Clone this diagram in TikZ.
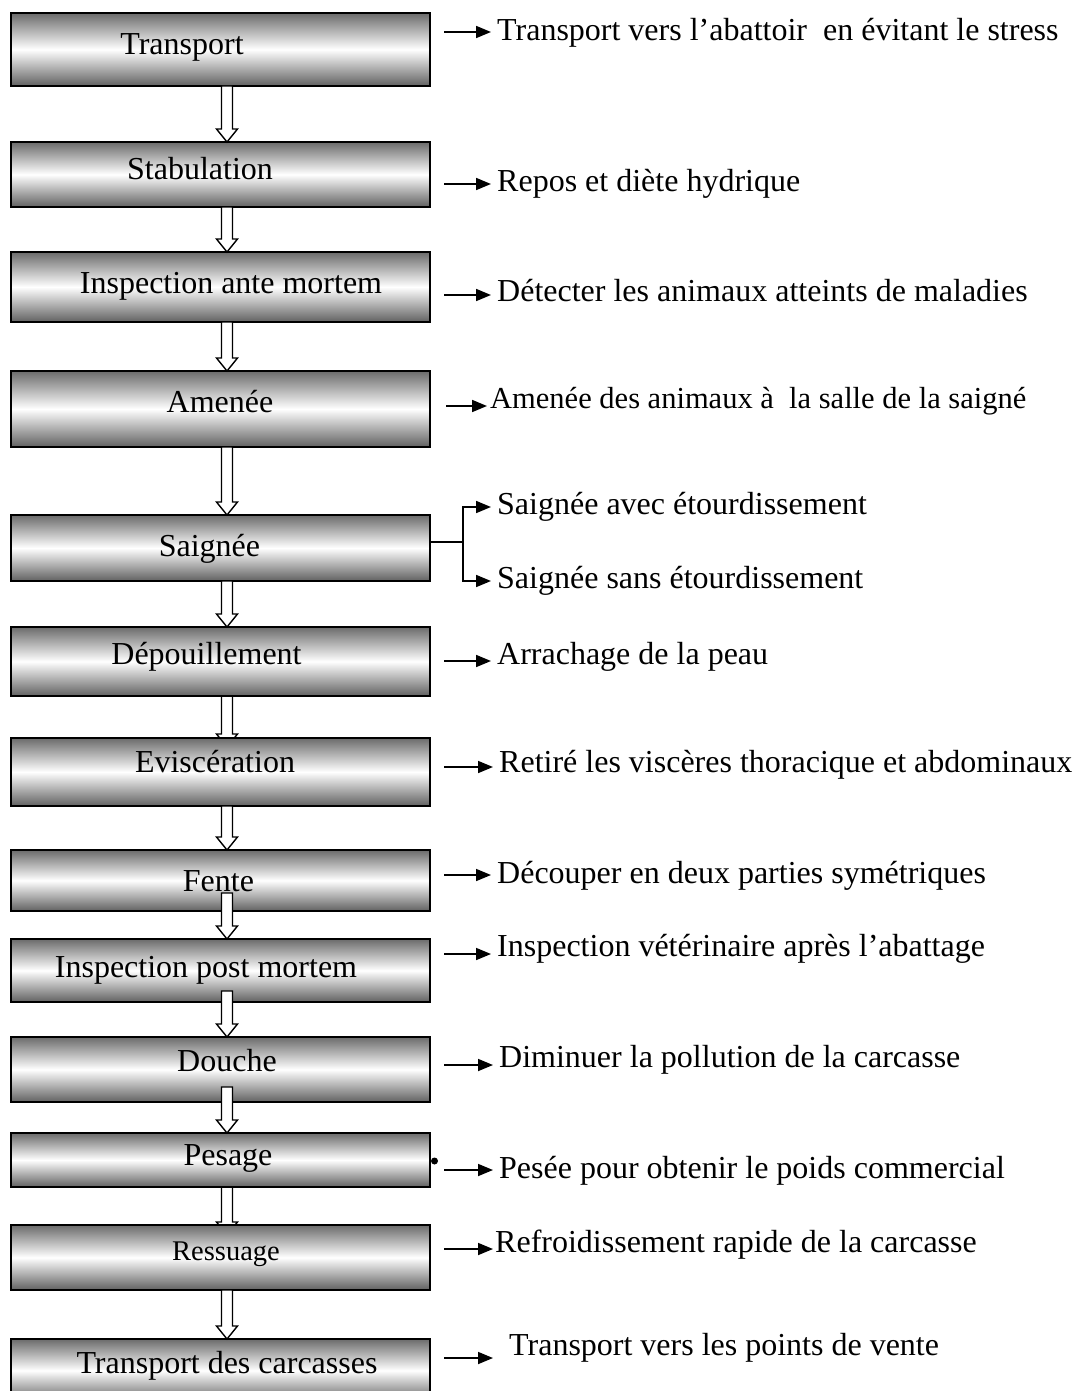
\documentclass[tikz,border=0pt]{standalone}
\usepackage{fontspec}
\setmainfont{Liberation Serif}
\usetikzlibrary{arrows.meta,calc}
\pgfdeclarelayer{bg}
\pgfdeclarelayer{paper}
\pgfsetlayers{paper,bg,main}
\tikzset{
  stepbox/.style={draw=black, line width=1.8pt, top color=black!58, bottom color=black!62, middle color=white, minimum width=419pt, inner sep=0pt, outer sep=0pt},
  boxtext/.style={font=\fontsize{32}{38}\selectfont, inner sep=0pt, text height=21pt, text depth=7pt},
  desc/.style={font=\fontsize{32}{38}\selectfont, anchor=west, inner sep=0pt, text height=21pt, text depth=7pt},
  thinarrow/.style={line width=1.7pt, -{Triangle[length=15pt,width=12pt]}, shorten >=6pt},
  blockarrow/.style={draw=black, line width=1.4pt, fill=white, line join=miter},
}
\newcommand{\blockarr}[4]{%
  \draw[blockarrow] let \p1=(#1.south -| ax), \p2=(#2.north -| ax) in
   (\x1-5.5pt,\y1+#3) -- (\x1-5.5pt,\y2-#4+13pt) -- (\x1-10.5pt,\y2-#4+13pt) -- (\x1,\y2-#4)
   -- (\x1+10.5pt,\y2-#4+13pt) -- (\x1+5.5pt,\y2-#4+13pt) -- (\x1+5.5pt,\y1+#3) -- cycle;}
\begin{document}
\begin{tikzpicture}[x=1pt,y=-1pt]
\begin{pgfonlayer}{paper}
\fill[white] (0,0) rectangle (1077,1391);
\end{pgfonlayer}
\useasboundingbox (0,0) rectangle (1077,1391);
\coordinate (ax) at (227,0);
% boxes
\node[stepbox, minimum height=73pt] (b1) at (220.5,49.5) {};
\node[stepbox, minimum height=65pt] (b2) at (220.5,174.5) {};
\node[stepbox, minimum height=70pt] (b3) at (220.5,287) {};
\node[stepbox, minimum height=76pt] (b4) at (220.5,409) {};
\node[stepbox, minimum height=66pt] (b5) at (220.5,548) {};
\node[stepbox, minimum height=69pt] (b6) at (220.5,661.5) {};
\node[stepbox, minimum height=68pt] (b7) at (220.5,772) {};
\node[stepbox, minimum height=61pt] (b8) at (220.5,880.5) {};
\node[stepbox, minimum height=63pt] (b9) at (220.5,970.5) {};
\node[stepbox, minimum height=65pt] (b10) at (220.5,1069.5) {};
\node[stepbox, minimum height=54pt] (b11) at (220.5,1160) {};
\node[stepbox, minimum height=65pt] (b12) at (220.5,1257.5) {};
\node[stepbox, minimum height=63pt] (b13) at (220.5,1370.5) {};
% box texts
\node[boxtext] (t1) at (182,48) {Transport};
\node[boxtext] (t2) at (200,172) {Stabulation};
\node[boxtext] (t3) at (231,286) {Inspection ante mortem};
\node[boxtext] (t4) at (220,405) {Amenée};
\node[boxtext] (t5) at (209.5,549) {Saignée};
\node[boxtext] (t6) at (206.5,657) {Dépouillement};
\node[boxtext] (t7) at (215,765) {Eviscération};
\node[boxtext] (t8) at (218.5,884) {Fente};
\node[boxtext] (t9) at (206,970) {Inspection post mortem};
\node[boxtext] (t10) at (227,1064) {Douche};
\node[boxtext] (t11) at (228,1158) {Pesage};
\node[boxtext, font=\fontsize{28.5}{34}\selectfont] (t12) at (226,1253) {Ressuage};
\node[boxtext] (t13) at (227,1366) {Transport des carcasses};
% hidden-head block arrows
\begin{pgfonlayer}{bg}
\blockarr{b6}{b7}{0pt}{9pt}
\blockarr{b11}{b12}{0pt}{10pt}
\end{pgfonlayer}
% block arrows
\blockarr{b1}{b2}{0pt}{0pt}
\blockarr{b2}{b3}{0pt}{0pt}
\blockarr{b3}{b4}{0pt}{0pt}
\blockarr{b4}{b5}{0pt}{0pt}
\blockarr{b5}{b6}{0pt}{0pt}
\blockarr{b7}{b8}{0pt}{0pt}
\blockarr{b8}{b9}{18pt}{0pt}
\blockarr{b9}{b10}{11pt}{0pt}
\blockarr{b10}{b11}{15pt}{0pt}
\blockarr{b12}{b13}{0pt}{0pt}
% descriptions
\node[desc] (d1) at (497,34) {Transport vers l’abattoir\ \ en évitant le stress};
\node[desc] (d2) at (497,184) {Repos et diète hydrique};
\node[desc] (d3) at (497,294) {Détecter les animaux atteints de maladies};
\node[desc, font=\fontsize{30.5}{36}\selectfont] (d4) at (490,401) {Amenée des animaux à\ \ la salle de la saigné};
\node[desc] (d5a) at (497,507) {Saignée avec étourdissement};
\node[desc] (d5b) at (497,581) {Saignée sans étourdissement};
\node[desc] (d6) at (497,657) {Arrachage de la peau};
\node[desc] (d7) at (499,765) {Retiré les viscères thoracique et abdominaux};
\node[desc] (d8) at (497,876) {Découper en deux parties symétriques};
\node[desc] (d9) at (497,949) {Inspection vétérinaire après l’abattage};
\node[desc] (d10) at (499,1060) {Diminuer la pollution de la carcasse};
\node[desc] (d11) at (499,1171) {Pesée pour obtenir le poids commercial};
\node[desc] (d12) at (495,1245) {Refroidissement rapide de la carcasse};
\node[desc] (d13) at (509,1348) {Transport vers les points de vente};
% thin arrows
\coordinate (a1) at (444,32);
\coordinate (a2) at (444,184);
\coordinate (a3) at (444,295);
\coordinate (a4) at (446,406);
\coordinate (a6) at (444,661);
\coordinate (a7) at (444,767);
\coordinate (a8) at (444,875);
\coordinate (a9) at (444,954);
\coordinate (a10) at (444,1065);
\coordinate (a11) at (444,1170);
\coordinate (a12) at (444,1249);
\coordinate (a13) at (444,1358);
\draw[thinarrow] (a1) -- (a1 -| d1.west);
\draw[thinarrow] (a2) -- (a2 -| d2.west);
\draw[thinarrow] (a3) -- (a3 -| d3.west);
\draw[thinarrow, shorten >=3pt] (a4) -- (a4 -| d4.west);
\draw[thinarrow] (a6) -- (a6 -| d6.west);
\draw[thinarrow] (a7) -- (a7 -| d7.west);
\draw[thinarrow] (a8) -- (a8 -| d8.west);
\draw[thinarrow] (a9) -- (a9 -| d9.west);
\draw[thinarrow] (a10) -- (a10 -| d10.west);
\draw[thinarrow] (a11) -- (a11 -| d11.west);
\draw[thinarrow, shorten >=2pt] (a12) -- (a12 -| d12.west);
\draw[thinarrow, shorten >=16pt] (a13) -- (a13 -| d13.west);
% Saignée branch
\coordinate (br) at (463,542);
\draw[line width=1.7pt] (b5.east |- br) -- (br);
\draw[thinarrow] (br) |- (d5a.west);
\draw[thinarrow] (br) |- (d5b.west);
% small mark on Pesage box
\fill (434.5,1161) circle (3.5pt);
\end{tikzpicture}
\end{document}
